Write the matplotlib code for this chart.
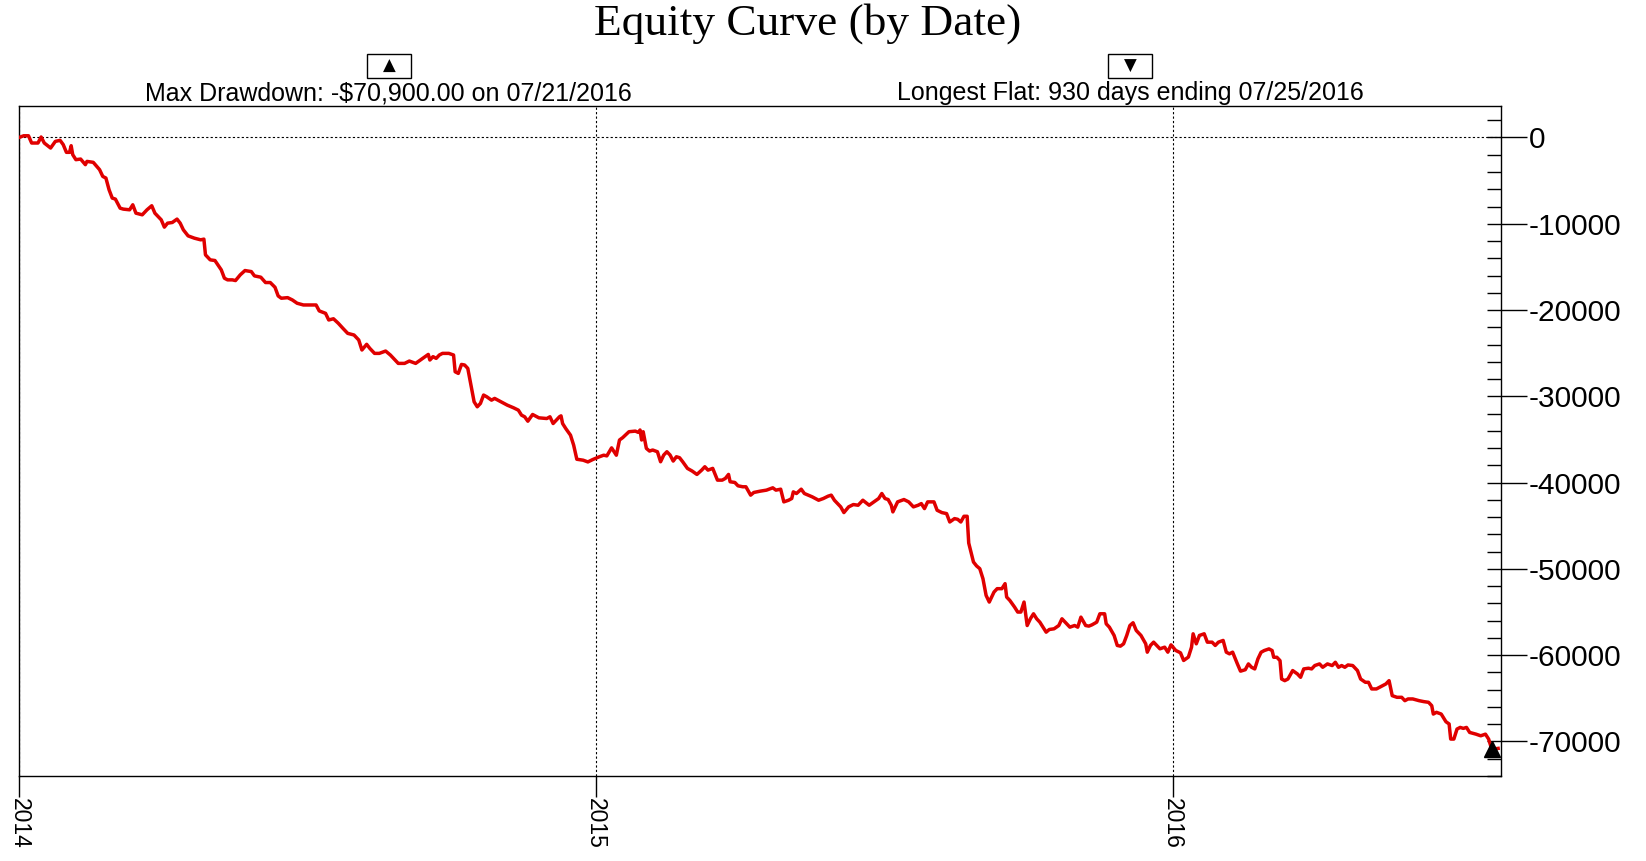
import matplotlib
matplotlib.use('Agg')
import matplotlib.pyplot as plt
import matplotlib.dates as mdates
from matplotlib.ticker import MultipleLocator, FuncFormatter
from matplotlib.patches import Rectangle
import pandas as pd

plt.rcParams['axes.unicode_minus'] = False

# ---- data (calendar days since 2014-01-01, equity in $) ----
start_date = '2014-01-01'
days = [0, 3, 6, 8, 12, 14, 16, 20, 23, 26, 28, 30, 32, 33, 34, 36, 39, 42, 43, 47,
        51, 53, 55, 57, 59, 61, 64, 66, 70, 72, 74, 78, 81, 84, 86, 90, 92, 94, 97, 100,
        102, 104, 107, 111, 115, 117, 118, 121, 124, 128, 130, 132, 135, 137, 140, 143, 147, 149, 153, 156,
        159, 162, 164, 166, 170, 173, 176, 180, 185, 188, 190, 194, 196, 199, 202, 205, 208, 212, 215, 217,
        220, 222, 225, 228, 232, 235, 240, 244, 247, 251, 254, 257, 259, 260, 262, 264, 266, 268, 272, 275,
        276, 278, 280, 282, 284, 286, 288, 290, 292, 294, 296, 299, 301, 305, 309, 313, 316, 318, 320, 322,
        325, 329, 334, 336, 338, 342, 343, 344, 346, 349, 351, 353, 357, 360, 363, 367, 370, 372, 375, 378,
        380, 382, 386, 390, 392, 393, 394, 395, 397, 399, 401, 404, 406, 408, 410, 412, 414, 416, 418, 420,
        423, 426, 429, 432, 434, 436, 439, 442, 445, 447, 449, 450, 453, 455, 458, 460, 463, 465, 469, 473,
        477, 479, 482, 484, 487, 489, 490, 492, 495, 497, 502, 504, 506, 509, 512, 514, 516, 520, 522, 525,
        528, 531, 534, 538, 541, 544, 546, 548, 550, 552, 553, 556, 560, 563, 566, 569, 571, 573, 575, 579,
        581, 584, 587, 589, 592, 594, 596, 598, 600, 601, 604, 606, 608, 610, 612, 614, 617, 619, 622, 624,
        625, 627, 630, 632, 634, 636, 638, 640, 642, 644, 646, 648, 650, 652, 655, 658, 660, 662, 665, 668,
        670, 672, 675, 677, 679, 682, 684, 687, 688, 690, 693, 695, 697, 699, 701, 703, 705, 707, 710, 713,
        714, 716, 718, 720, 722, 725, 727, 729, 732, 735, 737, 740, 742, 743, 745, 747, 750, 752, 755, 757,
        759, 762, 764, 766, 768, 771, 773, 776, 778, 780, 782, 784, 786, 788, 791, 793, 794, 796, 798, 799,
        801, 803, 806, 809, 811, 813, 816, 818, 820, 823, 825, 828, 831, 833, 835, 837, 839, 841, 844, 847,
        849, 852, 854, 856, 859, 861, 865, 867, 869, 872, 875, 877, 879, 882, 886, 889, 892, 894, 895, 897,
        900, 903, 905, 906, 908, 910, 912, 914, 916, 918, 922, 925, 928, 930, 932, 936]
equity = [0, 200, 200, -640, -640, 60, -640, -1220, -450, -330, -830, -1720, -1720, -950, -1990, -2570, -2500, -3150, -2770, -2880,
          -3730, -4510, -4700, -6060, -7020, -7140, -8190, -8300, -8380, -7800, -8770, -8960, -8380, -7910, -8770, -9540, -10390, -9930, -9850, -9460,
          -9930, -10700, -11400, -11670, -11860, -11780, -13600, -14180, -14260, -15340, -16310, -16500, -16500, -16580, -15920, -15420, -15540, -16040, -16190, -16810,
          -16810, -17360, -18360, -18630, -18560, -18830, -19210, -19410, -19410, -19410, -20100, -20380, -21150, -21010, -21520, -22120, -22700, -22890, -23470, -24630,
          -23970, -24440, -25020, -25020, -24750, -25210, -26180, -26180, -25910, -26180, -25790, -25400, -25140, -25790, -25400, -25600, -25210, -25020, -25020, -25210,
          -27150, -27340, -26300, -26370, -26760, -28700, -30630, -31210, -30820, -29850, -30050, -30440, -30240, -30630, -31020, -31330, -31600, -32180, -32370, -32880,
          -32100, -32490, -32570, -32370, -33150, -32370, -32260, -33150, -33730, -34500, -35660, -37290, -37400, -37600, -37330, -37020, -36820, -36900, -35970, -36820,
          -35060, -34790, -34100, -34030, -34180, -33900, -35060, -34100, -36030, -36340, -36220, -36420, -37580, -36800, -36420, -36800, -37500, -37000, -37110, -37580,
          -38350, -38660, -39050, -38550, -38160, -38550, -38350, -39710, -39710, -39510, -39050, -39900, -39980, -40370, -40480, -40480, -41450, -41140, -40990, -40870,
          -40600, -40870, -40760, -42230, -42040, -41840, -41070, -41260, -40760, -41260, -41650, -41840, -42040, -41840, -41570, -41450, -42040, -42810, -43470, -42810,
          -42540, -42620, -42040, -42620, -42230, -41840, -41260, -41840, -41960, -42620, -43390, -42230, -41960, -42230, -42810, -42620, -42430, -43010, -42230, -42230,
          -43200, -43470, -43590, -44560, -44170, -44250, -44560, -43900, -43900, -47000, -49200, -49660, -49970, -51130, -53070, -53840, -52680, -52290, -52290, -51710,
          -53260, -53650, -54420, -55000, -55000, -53840, -56560, -55780, -55200, -55780, -56170, -56750, -57330, -57020, -56940, -56560, -55780, -56170, -56750, -56560,
          -56750, -55590, -56560, -56630, -56480, -56170, -55200, -55200, -56360, -56750, -57710, -58870, -58950, -58680, -57710, -56560, -56240, -57130, -57710, -58680,
          -59650, -58870, -58490, -58870, -59260, -59070, -59650, -58800, -59450, -59720, -60610, -60220, -59070, -57520, -58680, -57710, -57520, -58490, -58490, -58870,
          -58490, -58290, -59650, -59840, -59650, -61000, -61850, -61680, -61010, -61400, -61590, -60430, -59660, -59460, -59270, -59460, -60240, -60240, -60630, -62760,
          -62950, -62760, -61780, -62170, -62560, -61590, -61510, -61590, -61200, -61010, -61400, -61010, -61200, -60820, -61400, -61200, -61400, -61130, -61200, -61780,
          -62760, -63140, -63140, -63910, -63910, -63720, -63330, -62950, -64690, -64880, -64880, -65270, -65070, -65070, -65270, -65380, -65460, -65850, -66820, -66620,
          -66820, -67710, -67970, -69720, -69720, -68560, -68370, -68480, -68370, -68950, -69150, -69340, -69150, -69720, -70900, -70800]

title = 'Equity Curve (by Date)'
dd_label = 'Max Drawdown: -$70,900.00 on 07/21/2016'
flat_label = 'Longest Flat: 930 days ending 07/25/2016'
dd_date = '2016-07-21'
dd_value = -70900
end_date = '2016-07-26'

W, H = 1646, 861
fig = plt.figure(figsize=(W / 100, H / 100), dpi=100)
fig.patch.set_facecolor('white')

L, R, T, B = 19, 1501, 106, 776
ax = fig.add_axes([L / W, 1 - B / H, (R - L) / W, (B - T) / H])

start = pd.Timestamp(start_date)
dates = start + pd.to_timedelta(days, unit='D')

ax.plot(dates, equity, color='#e00000', lw=2.5, zorder=3)
ax.plot([pd.Timestamp(dd_date)], [dd_value], marker='^', color='black', ms=12,
        linestyle='none', zorder=5, clip_on=False)

ax.set_xlim(start, pd.Timestamp(end_date) + pd.Timedelta(hours=20))
ax.set_ylim(-74000, 3650)

# y axis on the right
ax.yaxis.tick_right()
ax.yaxis.set_major_locator(MultipleLocator(10000))
ax.yaxis.set_minor_locator(MultipleLocator(2000))
ax.yaxis.remove_overlapping_locs = False
ax.yaxis.set_major_formatter(FuncFormatter(lambda v, p: str(int(round(v)))))
ax.tick_params(axis='y', which='major', direction='out', length=19, width=1.0,
               labelsize=21.5, pad=1, right=True, left=False)
ax.tick_params(axis='y', which='minor', direction='in', length=10, width=1.0,
               right=True, left=False)
for lbl in ax.get_yticklabels():
    lbl.set_family('Liberation Sans')

# x axis: years
ax.xaxis.set_major_locator(mdates.YearLocator())
ax.xaxis.set_major_formatter(mdates.DateFormatter('%Y'))
ax.tick_params(axis='x', which='major', direction='out', length=15, width=1.0,
               labelsize=16.5, pad=1, labelrotation=270)
for lbl in ax.get_xticklabels():
    lbl.set_family('Liberation Sans')

# grid
ax.grid(axis='x', color='black', linestyle=(0, (2, 2)), lw=0.8)
ax.axhline(0, color='black', linestyle=(0, (2, 2)), lw=0.8, zorder=1)

for s in ax.spines.values():
    s.set_linewidth(1.0)
    s.set_color('black')

# title
fig.text(808 / W, 1 - 35 / H, title, ha='center', va='baseline',
         family='Liberation Serif', fontsize=32.7)

# info labels
fig.text(388 / W, 1 - 100 / H, dd_label, ha='center', va='baseline',
         family='Liberation Sans', fontsize=18)
fig.text(1130 / W, 1 - 100 / H, flat_label, ha='center', va='baseline',
         family='Liberation Sans', fontsize=18)

# marker boxes
for cx, sym in [(389, '▲'), (1130, '▼')]:
    fig.patches.append(Rectangle(((cx - 22) / W, 1 - 78 / H), 44 / W, 24 / H,
                                 transform=fig.transFigure, fill=True, fc='white',
                                 ec='black', lw=1.0))
    fig.text(cx / W, 1 - 66 / H, sym, ha='center', va='center',
             family='DejaVu Sans', fontsize=12)

fig.savefig('out.png', dpi=100)
